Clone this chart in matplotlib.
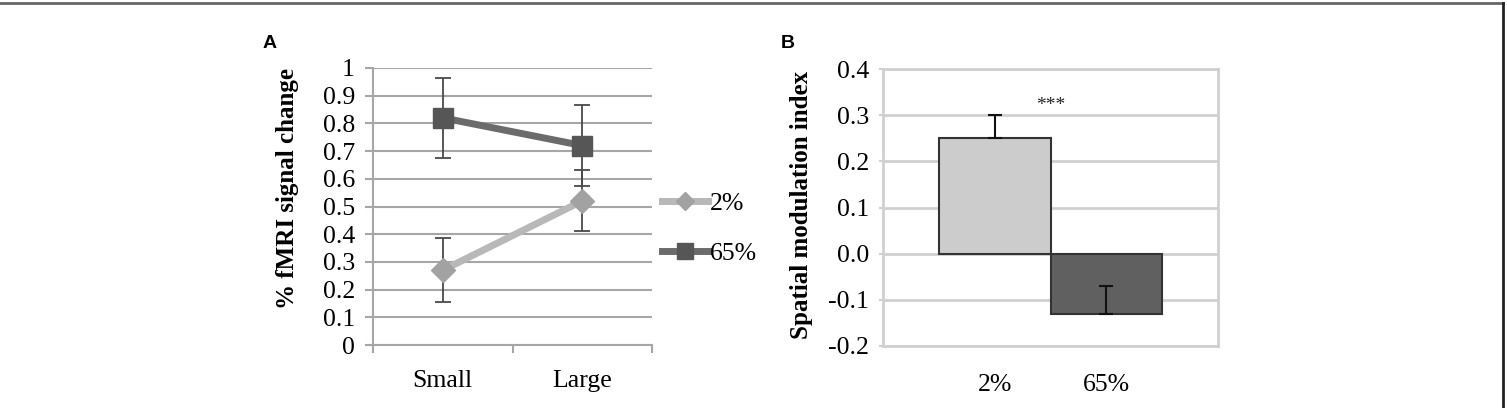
import numpy as np
import matplotlib
matplotlib.use('Agg')
import matplotlib.pyplot as plt
from matplotlib.lines import Line2D

# ---------------- data ----------------
sizes = ['Small', 'Large']
low_mean = [0.27, 0.52]     # 2% contrast
low_err = [0.115, 0.11]
high_mean = [0.82, 0.72]    # 65% contrast
high_err = [0.145, 0.145]

contrasts = ['2%', '65%']
smi_mean = [0.25, -0.13]
smi_err = [0.05, 0.06]

a_ticks = [0, 0.1, 0.2, 0.3, 0.4, 0.5, 0.6, 0.7, 0.8, 0.9, 1]
a_ticklabels = ['0', '0.1', '0.2', '0.3', '0.4', '0.5', '0.6', '0.7', '0.8', '0.9', '1']
b_ticks = [-0.2, -0.1, 0.0, 0.1, 0.2, 0.3, 0.4]
b_ticklabels = ['-0.2', '-0.1', '0.0', '0.1', '0.2', '0.3', '0.4']

plt.rcParams['font.family'] = ['Liberation Serif', 'DejaVu Serif']
W, H = 1507, 408
fig = plt.figure(figsize=(W / 100, H / 100), dpi=100)
FS = 18.5

def box(x0, y0, x1, y1):
    return [x0 / W, 1 - y1 / H, (x1 - x0) / W, (y1 - y0) / H]

# ---------------- panel A ----------------
ax = fig.add_axes(box(373, 68, 652, 345))
xa = np.arange(len(sizes)) + 0.5
grid_a = '#a6a6a6'

ax.errorbar(xa, high_mean, yerr=high_err, fmt='none', ecolor='#4a4a4a',
            elinewidth=1.3, capsize=6, capthick=1.3, zorder=3)
ax.errorbar(xa, low_mean, yerr=low_err, fmt='none', ecolor='#4a4a4a',
            elinewidth=1.3, capsize=6, capthick=1.3, zorder=3)
l_low, = ax.plot(xa, low_mean, color='#b8b8b8', lw=5, marker='D', ms=12,
                 mfc='#a2a2a2', mec='#a2a2a2', zorder=4)
l_high, = ax.plot(xa, high_mean, color='#6b6b6b', lw=5, marker='s', ms=14,
                  mfc='#565656', mec='#565656', zorder=4)

ax.set_xlim(0, 2)
ax.set_ylim(0, 1)
ax.set_yticks(a_ticks)
ax.set_yticklabels(a_ticklabels)
ax.yaxis.grid(True, color=grid_a, lw=1.5)
ax.set_axisbelow(True)
for s in ['top', 'right']:
    ax.spines[s].set_visible(False)
for s in ['left', 'bottom']:
    ax.spines[s].set_color(grid_a)
    ax.spines[s].set_linewidth(1.5)
ax.tick_params(axis='y', direction='out', length=6, width=1.5, color=grid_a,
               labelsize=FS, pad=7)
ax.set_xticks([0, 1, 2])
ax.set_xticklabels([])
ax.set_xticks(xa, minor=True)
ax.set_xticklabels(sizes, minor=True)
ax.tick_params(axis='x', which='major', direction='out', length=6, width=1.5,
               color=grid_a)
ax.tick_params(axis='x', which='minor', length=0, labelsize=FS, pad=18)
ax.set_ylabel('% fMRI signal change', fontsize=18, fontweight='bold')
ax.yaxis.set_label_coords(-0.265, 0.565)

ax.legend([l_low, l_high], ['2%', '65%'], loc='upper left',
          bbox_to_anchor=(662 / W, 1 - 192 / H), bbox_transform=fig.transFigure,
          frameon=False, fontsize=FS, handlelength=1.8, handletextpad=0.05,
          labelspacing=1.05, borderpad=0, borderaxespad=0, markerscale=0.8)

fig.text(270 / W, 1 - 43 / H, 'A', family='Liberation Sans', fontweight='bold',
         fontsize=14, ha='center', va='center')

# ---------------- panel B ----------------
bx = fig.add_axes(box(883, 69, 1218, 346))
xb = np.arange(len(contrasts)) + 1.0
grid_b = '#d0d0d0'

bx.bar(xb, smi_mean, width=1.0, color=['#cccccc', '#606060'],
       edgecolor='#333333', linewidth=1.5, zorder=3)
bx.errorbar(xb, smi_mean, yerr=[[0, 0], smi_err], fmt='none', ecolor='#111111',
            elinewidth=1.5, capsize=5, capthick=1.5, zorder=4)
bx.text(1.5, 0.32, '***', ha='center', va='center', fontsize=14, color='#222222')

bx.set_xlim(0, 3)
bx.set_ylim(-0.2, 0.4)
bx.set_yticks(b_ticks)
bx.set_yticklabels(b_ticklabels)
bx.yaxis.grid(True, color=grid_b, lw=2)
bx.set_axisbelow(True)
for s in bx.spines.values():
    s.set_color(grid_b)
    s.set_linewidth(2)
bx.tick_params(axis='y', length=3, width=1.5, color=grid_b, labelsize=FS, pad=7)
bx.set_xticks(xb)
bx.set_xticklabels(contrasts)
bx.tick_params(axis='x', length=0, labelsize=FS, pad=20)
bx.set_ylabel('Spatial modulation index', fontsize=18, fontweight='bold')
bx.yaxis.set_label_coords(-0.209, 0.51)

fig.text(788 / W, 1 - 43 / H, 'B', family='Liberation Sans', fontweight='bold',
         fontsize=14, ha='center', va='center')

# crop frame of the original figure (top and right edges only)
fig.add_artist(Line2D([0, 1503 / W], [1 - 2.5 / H, 1 - 2.5 / H],
                      transform=fig.transFigure, color='#666666', lw=2))
fig.add_artist(Line2D([1503 / W, 1503 / W], [0, 1 - 2.5 / H],
                      transform=fig.transFigure, color='#222222', lw=2))

fig.savefig('out.png', dpi=100)
